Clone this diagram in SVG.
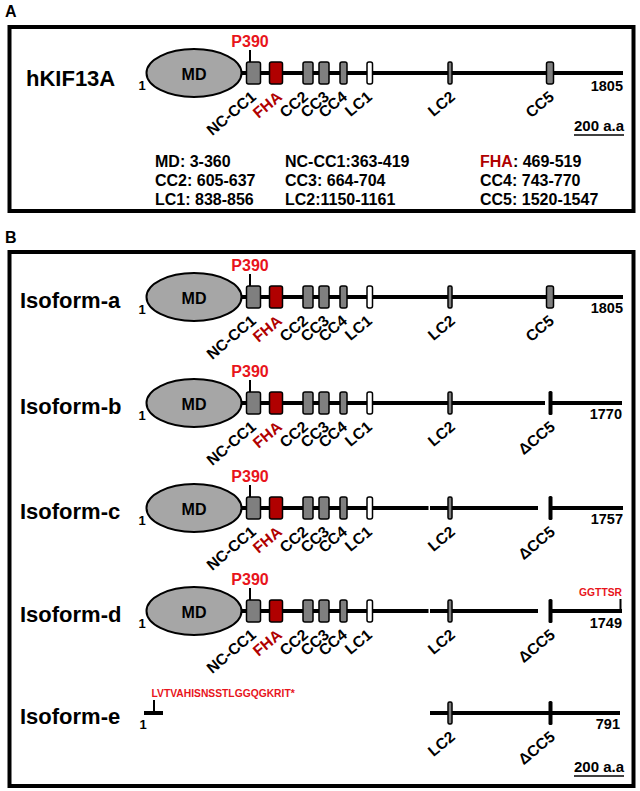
<svg xmlns="http://www.w3.org/2000/svg" width="640" height="791" viewBox="0 0 640 791">
<style>
text{font-family:"Liberation Sans",Arial,sans-serif;font-weight:bold;fill:#000}
.frame{fill:none;stroke:#000;stroke-width:4}
.ln{stroke:#000;stroke-width:4;fill:none}
.tk{stroke:#000;stroke-width:2}
.md{fill:#a6a6a6;stroke:#000;stroke-width:2}
.g{fill:#7f7f7f;stroke:#000;stroke-width:1.5}
.rd{fill:#b00000;stroke:#000;stroke-width:1.5}
.w{fill:#fff;stroke:#000;stroke-width:1.5}
.bar{fill:#000}
.pn{font-size:16px}
.nm{font-size:22px}
.lb{font-size:15.5px}
.num{font-size:14.5px}
.red{fill:#e8141b}
.dred{fill:#b00000}
.seq{font-size:10.3px;fill:#e8141b}
.lg{font-size:16px}
</style>
<defs>
<g id="head">
<line class="ln" x1="195" y1="0" x2="300" y2="0"/>
<ellipse class="md" cx="194" cy="0" rx="47.5" ry="24"/>
<text class="pn" x="194" y="7" text-anchor="middle">MD</text>
<text class="num" x="142" y="17" text-anchor="middle" style="font-size:13px">1</text>
<line class="tk" x1="250" y1="-23" x2="250" y2="-11"/>
<text class="pn red" x="250" y="-26" text-anchor="middle">P390</text>
<rect class="g" x="246.5" y="-11" width="14" height="22" rx="2"/>
<rect class="rd" x="269.5" y="-11" width="13" height="22" rx="2"/>
<rect class="g" x="303" y="-11" width="10" height="22" rx="2"/>
<rect class="g" x="319" y="-11" width="10" height="22" rx="2"/>
<rect class="g" x="340" y="-11" width="7" height="22" rx="2"/>
<rect class="w" x="367" y="-11" width="5.5" height="22" rx="2"/>
<text class="lb" text-anchor="end" transform="translate(257,25.5) rotate(-40)">NC-CC1</text>
<text class="lb dred" text-anchor="end" transform="translate(283,25.5) rotate(-40)">FHA</text>
<text class="lb" text-anchor="end" transform="translate(309,25.5) rotate(-40)">CC2</text>
<text class="lb" text-anchor="end" transform="translate(330,25.5) rotate(-40)">CC3</text>
<text class="lb" text-anchor="end" transform="translate(348,25.5) rotate(-40)">CC4</text>
<text class="lb" text-anchor="end" transform="translate(373,25.5) rotate(-40)">LC1</text>
</g>
<g id="lc2">
<rect class="g" x="448" y="-11" width="4" height="22" rx="1.5"/>
<text class="lb" text-anchor="end" transform="translate(456,25.5) rotate(-40)">LC2</text>
</g>
<g id="dcc5">
<rect class="bar" x="548.5" y="-12" width="4" height="24" rx="1.5"/>
<text class="lb" text-anchor="end" transform="translate(556,25.5) rotate(-40)">ΔCC5</text>
</g>
</defs>

<text x="5" y="17" style="font-size:16px">A</text>
<rect class="frame" x="9.5" y="27" width="624" height="184"/>

<g id="hKIF13A" transform="translate(0,73)">
<line class="ln" x1="250" y1="0" x2="623" y2="0"/>
<use href="#head"/>
<use href="#lc2"/>
<rect class="g" x="546.5" y="-11" width="7" height="22" rx="2"/>
<text class="lb" text-anchor="end" transform="translate(555,25.5) rotate(-40)">CC5</text>
<text class="nm" x="26" y="13">hKIF13A</text>
<text class="num" x="623" y="18" text-anchor="end">1805</text>
</g>

<g id="scaleA">
<text class="lb" x="624" y="131" text-anchor="end" style="font-size:15px">200 a.a</text>
<line x1="574" y1="135" x2="624" y2="135" stroke="#000" stroke-width="1.6"/>
</g>

<g id="legend">
<text class="lg" x="155" y="167">MD: 3-360</text>
<text class="lg" x="285" y="167">NC-CC1:363-419</text>
<text class="lg" x="480" y="167"><tspan class="dred">FHA</tspan>: 469-519</text>
<text class="lg" x="155" y="186">CC2: 605-637</text>
<text class="lg" x="285" y="186">CC3: 664-704</text>
<text class="lg" x="480" y="186">CC4: 743-770</text>
<text class="lg" x="155" y="205">LC1: 838-856</text>
<text class="lg" x="285" y="205">LC2:1150-1161</text>
<text class="lg" x="480" y="205">CC5: 1520-1547</text>
</g>

<text x="5" y="243" style="font-size:16px">B</text>
<rect class="frame" x="9.5" y="252" width="624" height="534"/>

<g id="isoform-a" transform="translate(0,297)">
<line class="ln" x1="250" y1="0" x2="623" y2="0"/>
<use href="#head"/>
<use href="#lc2"/>
<rect class="g" x="546.5" y="-11" width="7" height="22" rx="2"/>
<text class="lb" text-anchor="end" transform="translate(555,25.5) rotate(-40)">CC5</text>
<text class="nm" x="20" y="11">Isoform-a</text>
<text class="num" x="623" y="16" text-anchor="end">1805</text>
</g>

<g id="isoform-b" transform="translate(0,403)">
<line class="ln" x1="250" y1="0" x2="545" y2="0"/>
<line class="ln" x1="552" y1="0" x2="622" y2="0"/>
<use href="#head"/>
<use href="#lc2"/>
<use href="#dcc5"/>
<text class="nm" x="20" y="11">Isoform-b</text>
<text class="num" x="622" y="16" text-anchor="end">1770</text>
</g>

<g id="isoform-c" transform="translate(0,508)">
<line class="ln" x1="250" y1="0" x2="428.5" y2="0"/>
<line class="ln" x1="430" y1="0" x2="538" y2="0"/>
<line class="ln" x1="552" y1="0" x2="623" y2="0"/>
<use href="#head"/>
<use href="#lc2"/>
<use href="#dcc5"/>
<text class="nm" x="20" y="11">Isoform-c</text>
<text class="num" x="623" y="16" text-anchor="end">1757</text>
</g>

<g id="isoform-d" transform="translate(0,611)">
<line class="ln" x1="250" y1="0" x2="428.5" y2="0"/>
<line class="ln" x1="430" y1="0" x2="538" y2="0"/>
<line class="ln" x1="552" y1="0" x2="622" y2="0"/>
<line class="tk" x1="620.5" y1="-12" x2="620.5" y2="0"/>
<use href="#head"/>
<use href="#lc2"/>
<use href="#dcc5"/>
<text class="seq" x="622" y="-15" text-anchor="end">GGTTSR</text>
<text class="nm" x="20" y="11">Isoform-d</text>
<text class="num" x="622" y="17" text-anchor="end">1749</text>
</g>

<g id="isoform-e" transform="translate(0,713)">
<line class="ln" x1="144" y1="0" x2="163" y2="0"/>
<line class="tk" x1="154" y1="-13" x2="154" y2="0"/>
<text class="seq" x="151.5" y="-16">LVTVAHISNSSTLGGQGKRIT*</text>
<text class="num" x="143" y="16" text-anchor="middle" style="font-size:13px">1</text>
<line class="ln" x1="430" y1="0" x2="620" y2="0"/>
<use href="#lc2"/>
<use href="#dcc5"/>
<text class="nm" x="20" y="11">Isoform-e</text>
<text class="num" x="620" y="16" text-anchor="end">791</text>
</g>

<g id="scaleB">
<text class="lb" x="624" y="772" text-anchor="end" style="font-size:15px">200 a.a</text>
<line x1="574" y1="776" x2="624" y2="776" stroke="#000" stroke-width="1.6"/>
</g>
</svg>
